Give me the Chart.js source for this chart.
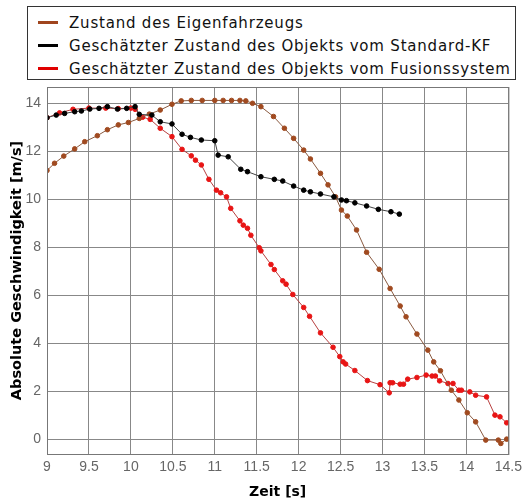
<!DOCTYPE html>
<html>
<head>
<meta charset="utf-8">
<script src="https://cdn.jsdelivr.net/npm/chart.js@4/dist/chart.umd.min.js"></script>
<style>
  html, body { margin: 0; padding: 0; background: #fff; }
  #wrap { position: relative; width: 527px; height: 501px; }
  #legend {
    position: absolute; left: 27px; top: 6px; width: 489px; height: 74px;
    border: 1px solid #333; background: #fff; box-sizing: border-box;
    font-family: "DejaVu Sans", sans-serif; font-size: 15px; color: #111; letter-spacing: 0.8px;
  }
  .row { position: absolute; left: 10px; height: 20px; line-height: 20px; white-space: nowrap; }
  .sw { display: inline-block; width: 20px; height: 3px; vertical-align: middle; margin-right: 11px; position: relative; top: -1px; }
</style>
</head>
<body>
<div id="wrap">
  <canvas id="c" width="527" height="501"></canvas>
  <div id="legend"></div>
</div>
<script>
// ---- data ----
const seriesNames = [
  "Zustand des Eigenfahrzeugs",
  "Geschätzter Zustand des Objekts vom Standard-KF",
  "Geschätzter Zustand des Objekts vom Fusionssystem"
];
const xTicks = [9, 9.5, 10, 10.5, 11, 11.5, 12, 12.5, 13, 13.5, 14, 14.5];
const yTicks = [0, 2, 4, 6, 8, 10, 12, 14];

const egoT = [9.0, 9.09, 9.2, 9.33, 9.45, 9.6, 9.72, 9.85, 9.97, 10.1, 10.22, 10.35, 10.49, 10.6, 10.72, 10.85, 11.0, 11.1, 11.2, 11.3, 11.37, 11.45, 11.55, 11.7, 11.83, 11.94, 12.06, 12.14, 12.26, 12.35, 12.44, 12.51, 12.58, 12.69, 12.81, 12.96, 13.09, 13.21, 13.28, 13.41, 13.54, 13.61, 13.69, 13.82, 13.91, 14.01, 14.11, 14.23, 14.38, 14.41, 14.48];
const egoV = [11.2, 11.5, 11.8, 12.1, 12.4, 12.65, 12.9, 13.1, 13.2, 13.37, 13.55, 13.72, 13.96, 14.1, 14.12, 14.12, 14.12, 14.12, 14.12, 14.12, 14.1, 14.0, 13.86, 13.45, 12.96, 12.54, 12.05, 11.68, 11.08, 10.6, 10.1, 9.55, 9.3, 8.72, 7.79, 7.08, 6.28, 5.55, 5.1, 4.38, 3.71, 3.22, 2.85, 2.04, 1.63, 1.1, 0.72, -0.04, -0.04, -0.18, 0.0];

const kfT = [9.0, 9.11, 9.21, 9.33, 9.41, 9.51, 9.62, 9.72, 9.84, 9.95, 10.05, 10.1, 10.25, 10.35, 10.49, 10.61, 10.71, 10.84, 11.0, 11.04, 11.16, 11.31, 11.39, 11.55, 11.71, 11.81, 11.94, 12.06, 12.14, 12.26, 12.42, 12.51, 12.57, 12.67, 12.81, 12.95, 13.1, 13.2];
const kfV = [13.4, 13.51, 13.58, 13.65, 13.68, 13.76, 13.79, 13.86, 13.76, 13.79, 13.86, 13.54, 13.51, 13.23, 13.14, 12.71, 12.58, 12.47, 12.44, 11.84, 11.77, 11.25, 11.15, 10.94, 10.83, 10.76, 10.55, 10.38, 10.31, 10.22, 10.1, 9.97, 9.94, 9.85, 9.72, 9.58, 9.48, 9.38];

const fusT = [9.0, 9.15, 9.31, 9.5, 9.7, 9.85, 10.0, 10.05, 10.14, 10.23, 10.35, 10.49, 10.61, 10.72, 10.77, 10.84, 10.93, 11.02, 11.07, 11.14, 11.19, 11.3, 11.34, 11.39, 11.43, 11.53, 11.55, 11.67, 11.71, 11.81, 11.85, 11.93, 12.06, 12.13, 12.26, 12.41, 12.49, 12.53, 12.56, 12.67, 12.82, 12.97, 13.08, 13.09, 13.12, 13.21, 13.25, 13.3, 13.41, 13.52, 13.59, 13.63, 13.68, 13.78, 13.84, 13.91, 13.94, 14.04, 14.11, 14.24, 14.34, 14.4, 14.48];
const fusV = [13.4, 13.6, 13.75, 13.8, 13.8, 13.78, 13.8, 13.75, 13.42, 13.33, 12.96, 12.61, 12.08, 11.81, 11.63, 11.43, 10.83, 10.38, 10.27, 10.1, 9.62, 9.1, 8.92, 8.79, 8.5, 7.98, 7.85, 7.28, 7.07, 6.6, 6.46, 6.03, 5.49, 5.12, 4.43, 3.83, 3.44, 3.22, 3.13, 2.86, 2.44, 2.27, 1.93, 2.35, 2.35, 2.29, 2.29, 2.5, 2.57, 2.67, 2.63, 2.63, 2.43, 2.32, 2.32, 2.04, 2.04, 1.97, 1.83, 1.76, 1.0, 0.93, 0.68];

const lineColors = ["#8a5a40", "#444444", "#b84040"];
const markColors = ["#a04a20", "#000000", "#e81515"];
const legendColors = ["#a0451e", "#000000", "#e00000"];

function pts(t, v) { return t.map((x, i) => ({ x: x, y: v[i] })); }

// HTML legend
const lg = document.getElementById('legend');
seriesNames.forEach((n, i) => {
  const r = document.createElement('div');
  r.className = 'row';
  r.style.top = (6 + i * 23) + 'px';
  r.innerHTML = '<span class="sw" style="background:' + legendColors[i] + '"></span>' + n;
  lg.appendChild(r);
});

const frame = {
  id: 'frame',
  afterDraw(chart) {
    const a = chart.chartArea, ctx = chart.ctx;
    ctx.save();
    ctx.strokeStyle = '#777';
    ctx.lineWidth = 1;
    ctx.strokeRect(a.left + 0.5, a.top + 0.5, a.right - a.left, a.bottom - a.top);
    ctx.restore();
  }
};

const mkSet = (i, t, v) => ({
  label: seriesNames[i],
  data: pts(t, v),
  showLine: true,
  borderColor: lineColors[i],
  borderWidth: 1,
  pointRadius: 2.3,
  pointBackgroundColor: markColors[i],
  pointBorderColor: markColors[i],
  pointBorderWidth: 1,
  tension: 0
});

new Chart(document.getElementById('c'), {
  type: 'scatter',
  data: {
    datasets: [mkSet(1, kfT, kfV), mkSet(0, egoT, egoV), mkSet(2, fusT, fusV)]
  },
  plugins: [frame],
  options: {
    responsive: false,
    animation: false,
    layout: { padding: { top: 87, right: 13, left: 0, bottom: 0 } },
    plugins: { legend: { display: false }, tooltip: { enabled: false } },
    scales: {
      x: {
        type: 'linear', min: 9, max: 14.5,
        afterBuildTicks: s => { s.ticks = xTicks.map(v => ({ value: v })); },
        afterFit: s => { s.height = 47; },
        grid: { color: '#888', borderDash: [1, 3], drawTicks: false },
        border: { display: false },
        ticks: { color: '#666', padding: 5, font: { family: 'Liberation Sans', size: 14 }, maxRotation: 0,
                 callback: v => String(v) },
        title: { display: true, text: 'Zeit [s]', color: '#000', padding: { top: 11, bottom: 0 },
                 font: { family: 'DejaVu Sans', size: 14, weight: 'bold' } }
      },
      y: {
        type: 'linear', min: -0.62, max: 14.68,
        afterBuildTicks: s => { s.ticks = yTicks.map(v => ({ value: v })); },
        afterFit: s => { s.width = 47; },
        grid: { color: '#888', borderDash: [1, 3], drawTicks: false },
        border: { display: false },
        ticks: { color: '#666', padding: 6, font: { family: 'Liberation Sans', size: 14 },
                 callback: v => String(v) },
        title: { display: true, text: 'Absolute Geschwindigkeit [m/s]', color: '#000', padding: { top: 9, bottom: 0 },
                 font: { family: 'DejaVu Sans', size: 14.5, weight: 'bold' } }
      }
    }
  }
});
</script>
</body>
</html>
